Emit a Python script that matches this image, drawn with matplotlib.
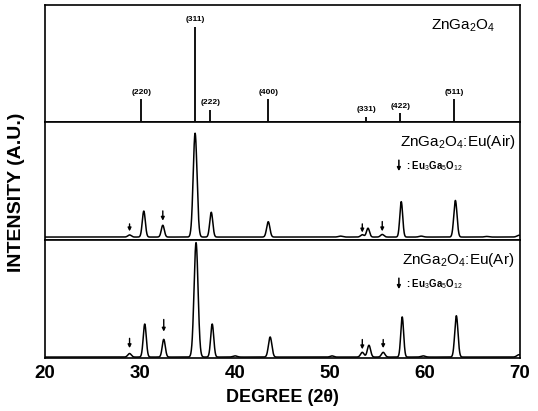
import numpy as np
import matplotlib
matplotlib.use("Agg")
import matplotlib.pyplot as plt

plt.rcParams['font.family'] = ['Liberation Sans', 'DejaVu Sans']
plt.rcParams['mathtext.fontset'] = 'custom'
plt.rcParams['mathtext.rm'] = 'Liberation Sans'
plt.rcParams['mathtext.it'] = 'Liberation Sans:italic'
plt.rcParams['mathtext.bf'] = 'Liberation Sans:bold'

# ---- data ----
# Panel 1: reference ZnGa2O4 stick pattern (relative heights, % of panel)
ref_pos = [30.15, 35.8, 37.4, 43.5, 53.8, 57.4, 63.1]
ref_int = [19, 81, 10, 19, 4, 7, 19]
ref_hkl = ['(220)', '(311)', '(222)', '(400)', '(331)', '(422)', '(511)']

# Panel 2: ZnGa2O4:Eu (Air)
air_pos = [28.9, 30.4, 32.4, 35.8, 37.5, 43.5, 51.1, 53.4, 54.0, 55.5, 57.5, 59.6, 63.2, 66.5, 69.9]
air_int = [1.8, 22, 10, 88, 21, 13, 0.8, 2.0, 7.5, 2.2, 30, 0.8, 31, 0.5, 1.5]
air_wid = [0.18, 0.16, 0.16, 0.2, 0.16, 0.17, 0.22, 0.18, 0.16, 0.18, 0.15, 0.22, 0.17, 0.22, 0.22]
air_base = 2.5
air_arrows = [28.9, 32.4, 53.4, 55.5]
air_arrow_top = [16, 27, 16, 18]
air_arrow_bot = [5, 14, 4, 5]

# Panel 3: ZnGa2O4:Eu (Ar)
ar_pos = [28.9, 30.5, 32.5, 35.9, 37.6, 40.0, 43.7, 50.2, 53.4, 54.1, 55.6, 57.6, 59.8, 63.3, 69.9]
ar_int = [3, 28, 15, 97, 28, 1, 17, 1, 4, 10, 4, 34, 1, 35, 2]
ar_wid = [0.18, 0.16, 0.16, 0.21, 0.16, 0.22, 0.18, 0.18, 0.18, 0.17, 0.18, 0.15, 0.22, 0.17, 0.22]
ar_base = 0.8
ar_arrows = [28.9, 32.5, 53.4, 55.6]
ar_arrow_top = [19, 35, 18, 18]
ar_arrow_bot = [6, 20, 5, 6]

x_ticks = [20, 30, 40, 50, 60, 70]
xlabel = 'DEGREE (2θ)'
ylabel = 'INTENSITY (A.U.)'

# ---- figure ----
W, H = 538, 411
fig = plt.figure(figsize=(W / 100, H / 100), dpi=100)
L, R = 45 / W, 520 / W
tops = [5, 122, 240]
bots = [122, 240, 358]
axes = []
for t, b in zip(tops, bots):
    ax = fig.add_axes([L, 1 - b / H, R - L, (b - t) / H])
    ax.set_xlim(20, 70)
    ax.set_ylim(0, 100)
    ax.set_yticks([])
    for s in ax.spines.values():
        s.set_linewidth(1.2)
    ax.tick_params(axis='x', length=0)
    axes.append(ax)

for ax in axes[:2]:
    ax.set_xticklabels([])
axes[2].set_xticks(x_ticks)
axes[2].set_xticklabels([str(v) for v in x_ticks], fontsize=13.5, fontweight='bold')
axes[2].tick_params(axis='x', pad=5)
axes[2].set_xlabel(xlabel, fontsize=13, fontweight='bold', labelpad=5)
fig.text(0.03, 1 - 192 / H, ylabel, rotation=90, ha='center', va='center',
         fontsize=14, fontweight='bold')

# panel 1 sticks
ax = axes[0]
ax.vlines(ref_pos, 0.5, np.array(ref_int) + 0.5, color='black', lw=1.3)
for p, h, lab in zip(ref_pos, ref_int, ref_hkl):
    ax.text(p, h + 6.5, lab, ha='center', va='center', fontsize=6, fontweight='bold')
ax.text(0.88, 0.82, 'ZnGa$_2$O$_4$', transform=ax.transAxes, ha='center', va='center',
        fontsize=11)

# profile panels
xx = np.linspace(20, 70, 4000)


def profile(pos, inten, wid, base):
    y = np.full_like(xx, base)
    for p, h, w in zip(pos, inten, wid):
        y += h * np.exp(-0.5 * ((xx - p) / w) ** 2)
    return y


y_air = profile(air_pos, air_int, air_wid, air_base)
y_ar = profile(ar_pos, ar_int, ar_wid, ar_base)
axes[1].plot(xx, y_air, color='black', lw=1.1)
axes[2].plot(xx, y_ar, color='black', lw=1.1)

titles = ['ZnGa$_2$O$_4$:Eu(Air)', 'ZnGa$_2$O$_4$:Eu(Ar)']
for ax, title, ap, at, ab in zip(axes[1:], titles,
                                 [air_arrows, ar_arrows],
                                 [air_arrow_top, ar_arrow_top],
                                 [air_arrow_bot, ar_arrow_bot]):
    ax.text(0.87, 0.83, title, transform=ax.transAxes, ha='center', va='center', fontsize=11)
    ax.annotate('', xy=(0.745, 0.56), xytext=(0.745, 0.70), xycoords='axes fraction',
                arrowprops=dict(arrowstyle='-|>', color='black', lw=1.1, mutation_scale=5))
    ax.text(0.76, 0.63, ': Eu$_3$Ga$_5$O$_{12}$', transform=ax.transAxes, ha='left',
            va='center', fontsize=7, fontweight='bold')
    for p, t, b in zip(ap, at, ab):
        ax.annotate('', xy=(p, b), xytext=(p, t),
                    arrowprops=dict(arrowstyle='-|>', color='black', lw=1.0, mutation_scale=5))

fig.savefig('out.png', dpi=100)
